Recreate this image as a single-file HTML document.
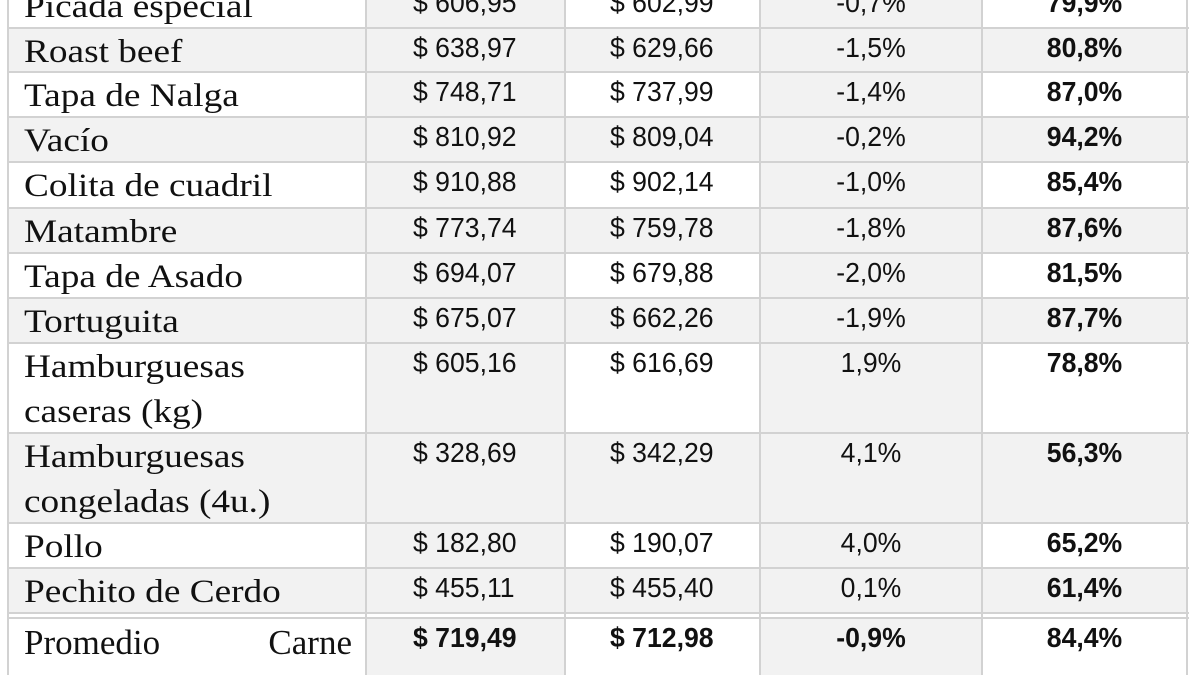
<!DOCTYPE html>
<html><head><meta charset="utf-8"><style>
html,body{margin:0;padding:0;width:1200px;height:675px;overflow:hidden;background:#fff}
#bg{position:absolute;left:0;top:0;width:1200px;height:675px;overflow:hidden}
.c{position:absolute;box-sizing:border-box}
.g{background:#f2f2f2}
.hl{position:absolute;left:8px;width:1181px;height:2px;background:#d2d2d2}
.vl{position:absolute;top:0;width:2px;height:675px;background:#d2d2d2}
.t{position:absolute;left:24px;font-family:"Liberation Serif",serif;font-size:33px;line-height:45px;color:#111;white-space:nowrap;transform:scaleX(1.13);transform-origin:left top}
.n{position:absolute;font-family:"Liberation Sans",sans-serif;font-size:28px;line-height:28px;color:#111;white-space:nowrap;transform:scaleX(0.95)}
.L{transform-origin:left top}
.C{transform-origin:center top;text-align:center}
.b{font-weight:bold}
</style></head><body>
<div id="bg"></div>
<script>
var rows=[
["Picada especial","$ 606,95","$ 602,99","-0,7%","79,9%",-17,45,0],
["Roast beef","$ 638,97","$ 629,66","-1,5%","80,8%",28,44,1],
["Tapa de Nalga","$ 748,71","$ 737,99","-1,4%","87,0%",72,45,0],
["Vacío","$ 810,92","$ 809,04","-0,2%","94,2%",117,45,1],
["Colita de cuadril","$ 910,88","$ 902,14","-1,0%","85,4%",162,46,0],
["Matambre","$ 773,74","$ 759,78","-1,8%","87,6%",208,45,1],
["Tapa de Asado","$ 694,07","$ 679,88","-2,0%","81,5%",253,45,0],
["Tortuguita","$ 675,07","$ 662,26","-1,9%","87,7%",298,45,1],
["Hamburguesas<br>caseras (kg)","$ 605,16","$ 616,69","1,9%","78,8%",343,90,0],
["Hamburguesas<br>congeladas (4u.)","$ 328,69","$ 342,29","4,1%","56,3%",433,90,1],
["Pollo","$ 182,80","$ 190,07","4,0%","65,2%",523,45,0],
["Pechito de Cerdo","$ 455,11","$ 455,40","0,1%","61,4%",568,45,1],
["PROM","$ 719,49","$ 712,98","-0,9%","84,4%",618,57,2]
];
var xs=[8,366,565,760,982,1187];
var h="";
rows.forEach(function(r){
 var top=r[5],ht=r[6],gray=r[7];
 for(var i=0;i<5;i++){
  var g = gray==1 ? true : (i==1||i==3);
  if(g) h+='<div class="c g" style="left:'+xs[i]+'px;top:'+top+'px;width:'+(xs[i+1]-xs[i])+'px;height:'+ht+'px"></div>';
 }
 h+='<div class="hl" style="top:'+(top-1)+'px"></div>';
 if(r[0]=="PROM"){
  h+='<div class="t" style="top:'+(top+2)+'px;transform:none;width:328px;display:flex;justify-content:space-between;font-size:35px"><span>Promedio</span><span>Carne</span></div>';
  h+='<div class="t" style="top:'+(top+47)+'px;height:10px;overflow:hidden;font-size:33px">Argentina</div>';
 } else {
  h+='<div class="t" style="top:'+(top+2)+'px">'+r[0]+'</div>';
 }
 var bb = gray==2 ? ' b' : '';
 h+='<div class="n L'+bb+'" style="left:413px;top:'+(top+6)+'px">'+r[1]+'</div>';
 h+='<div class="n L'+bb+'" style="left:610px;top:'+(top+6)+'px">'+r[2]+'</div>';
 h+='<div class="n C'+bb+'" style="left:760px;width:222px;top:'+(top+6)+'px">'+r[3]+'</div>';
 h+='<div class="n C b" style="left:982px;width:205px;top:'+(top+6)+'px">'+r[4]+'</div>';
});
h+='<div class="hl" style="top:612px"></div>';
for(var i=0;i<6;i++) h+='<div class="vl" style="left:'+(xs[i]-1)+'px"></div>';
document.getElementById("bg").innerHTML=h;
</script>
</body></html>
